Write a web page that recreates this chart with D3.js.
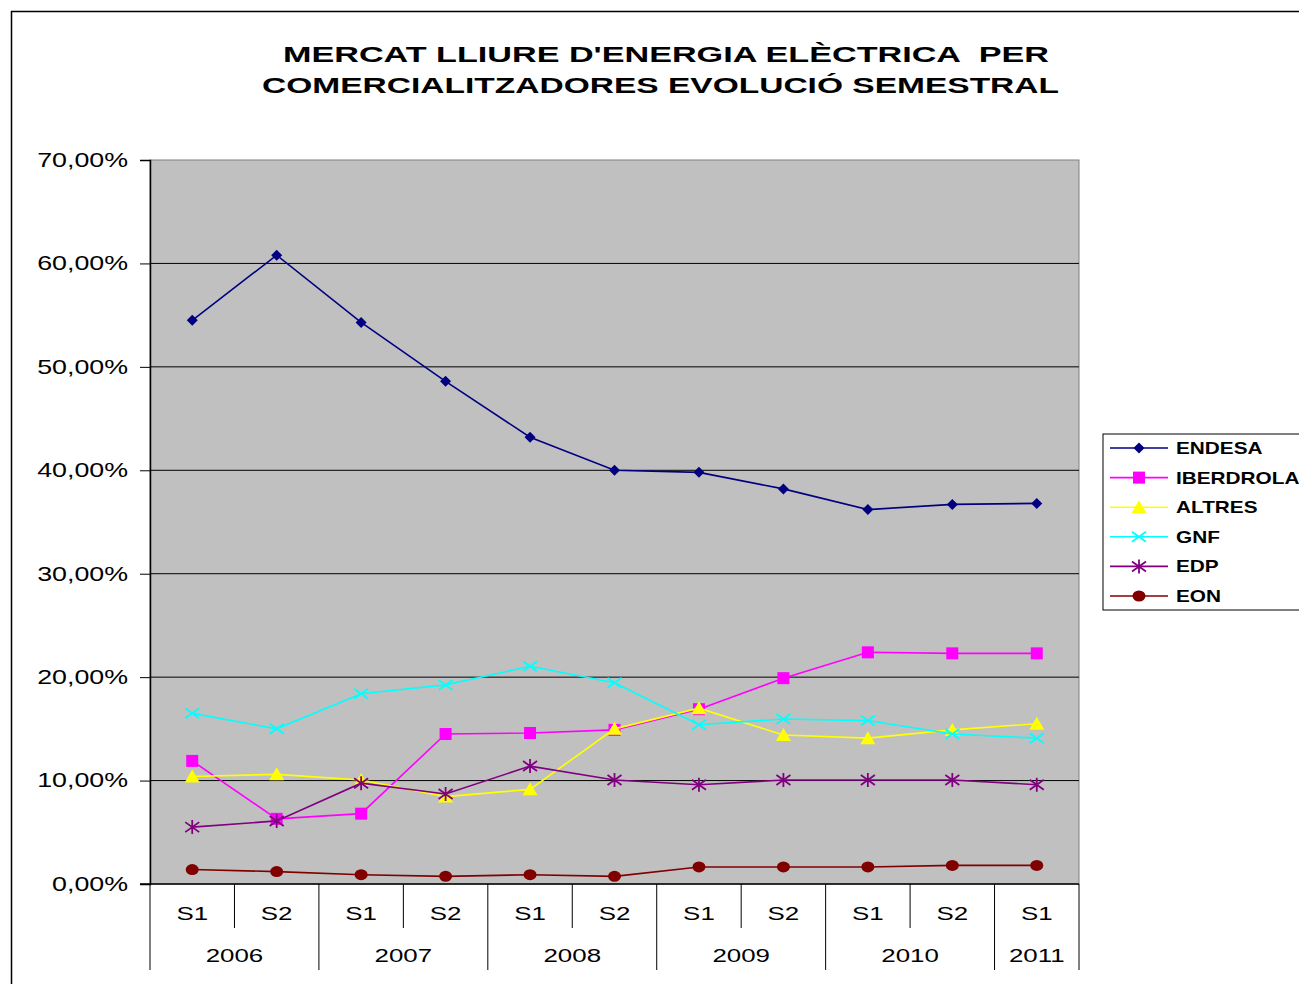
<!DOCTYPE html>
<html><head><meta charset="utf-8">
<script src="https://cdn.jsdelivr.net/npm/d3@7"></script>
<style>
html,body{margin:0;padding:0;background:#fff;}
svg{display:block;font-family:"Liberation Sans",Arial,sans-serif;}
</style></head>
<body><svg id="chart" width="1299" height="984"></svg>
<script>
const semesters = ["S1","S2","S1","S2","S1","S2","S1","S2","S1","S2","S1"];
const years = ["2006","2006","2007","2007","2008","2008","2009","2009","2010","2010","2011"];
const categories = semesters.map((s,i)=>years[i]+" "+s);
const endesa    = [54.5, 60.8, 54.3, 48.6, 43.2, 40.0, 39.8, 38.2, 36.2, 36.7, 36.8];
const iberdrola = [11.9, 6.3, 6.8, 14.5, 14.6, 14.9, 16.9, 19.9, 22.4, 22.3, 22.3];
const altres    = [10.4, 10.6, 10.05, 8.45, 9.15, 15.0, 17.0, 14.4, 14.1, 14.9, 15.5];
const gnf       = [16.5, 15.0, 18.4, 19.25, 21.05, 19.45, 15.4, 15.95, 15.8, 14.5, 14.1];
const edp       = [5.5, 6.1, 9.75, 8.7, 11.4, 10.05, 9.6, 10.05, 10.05, 10.05, 9.6];
const eon       = [1.4, 1.2, 0.9, 0.74, 0.9, 0.74, 1.65, 1.65, 1.65, 1.8, 1.8];
const seriesNames = ["ENDESA","IBERDROLA","ALTRES","GNF","EDP","EON"];
const yTicks = [0,10,20,30,40,50,60,70];
const titleLines = ["MERCAT LLIURE D'ENERGIA ELÈCTRICA  PER","COMERCIALITZADORES EVOLUCIÓ SEMESTRAL"];

const series = [
  {name:"ENDESA", values:endesa, color:"#000080", marker:"diamond"},
  {name:"IBERDROLA", values:iberdrola, color:"#FF00FF", marker:"square"},
  {name:"ALTRES", values:altres, color:"#FFFF00", marker:"triangle"},
  {name:"GNF", values:gnf, color:"#00FFFF", marker:"x"},
  {name:"EDP", values:edp, color:"#800080", marker:"star"},
  {name:"EON", values:eon, color:"#800000", marker:"circle"}
];

const svg = d3.select("#chart");
const L=150, R=1079, T=160, B=884;
const x = d3.scaleBand().domain(categories).range([L,R]);
const y = d3.scaleLinear().domain([0,70]).range([B,T]);
const loc = d3.formatLocale({decimal:",",thousands:".",grouping:[3],currency:["","€"]});
const fmt = v => loc.format(".2f")(v)+"%";

// outer frame
svg.append("line").attr("x1",11).attr("x2",1299).attr("y1",11.5).attr("y2",11.5).attr("stroke","#000").attr("stroke-width",1.5);
svg.append("line").attr("x1",11.5).attr("x2",11.5).attr("y1",11).attr("y2",984).attr("stroke","#000").attr("stroke-width",1.5);

// title (horizontally stretched like the original)
const titleGeom = [{x0:283, y:61.5, w:766},{x0:262, y:93, w:797}];
svg.append("g").selectAll("text").data(titleLines).join("text")
  .attr("x",(d,i)=>titleGeom[i].x0).attr("y",(d,i)=>titleGeom[i].y)
  .attr("font-size",22.5).attr("font-weight","bold").style("white-space","pre")
  .attr("textLength",(d,i)=>titleGeom[i].w).attr("lengthAdjust","spacingAndGlyphs")
  .text(d=>d);

// plot area
svg.append("rect").attr("x",L).attr("y",T).attr("width",R-L).attr("height",B-T)
  .attr("fill","#C0C0C0").attr("stroke","#808080").attr("stroke-width",1);

// gridlines
svg.append("g").selectAll("line").data(yTicks.filter(d=>d>0&&d<70)).join("line")
  .attr("x1",L).attr("x2",R).attr("y1",d=>y(d)).attr("y2",d=>y(d))
  .attr("stroke","#000").attr("stroke-width",1);

// y axis
const ySx = 1.34;
const ya = svg.append("g").attr("transform",`translate(${L},0)`)
  .call(d3.axisLeft(y).tickValues(yTicks).tickFormat(fmt).tickSize(10).tickPadding(12));
ya.select(".domain").attr("stroke","#000").attr("stroke-width",1.5);
ya.selectAll(".tick line").attr("stroke","#000");
ya.selectAll("text").attr("font-size",20).attr("fill","#000")
  .attr("font-family","'Liberation Sans',Arial,sans-serif")
  .attr("x",-22/ySx).attr("transform",`scale(${ySx},1)`);

// x axis baseline
svg.append("line").attr("x1",L-10).attr("x2",R).attr("y1",B).attr("y2",B).attr("stroke","#000").attr("stroke-width",1.5);

// category separators
const bounds = categories.map((c,i)=>({i, xpos:x(c)})).concat([{i:categories.length, xpos:R}]);
svg.append("g").selectAll("line").data(bounds).join("line")
  .attr("x1",d=>d.xpos).attr("x2",d=>d.xpos).attr("y1",B)
  .attr("y2",d=>{
    const isYearBound = d.i===0 || d.i===categories.length || years[d.i]!==years[d.i-1];
    return isYearBound ? 970 : 928;
  }).attr("stroke","#000").attr("stroke-width",1);

const xSx = 1.4;
// semester labels
svg.append("g").selectAll("text").data(categories).join("text")
  .attr("transform",d=>`translate(${x(d)+x.bandwidth()/2},920) scale(${xSx},1)`)
  .attr("text-anchor","middle").attr("font-size",18.5).text((d,i)=>semesters[i]);

// year labels
const yearGroups = d3.groups(categories.map((c,i)=>({c,yr:years[i]})), d=>d.yr);
svg.append("g").selectAll("text").data(yearGroups).join("text")
  .attr("transform",d=>{const a=x(d[1][0].c), b=x(d[1][d[1].length-1].c)+x.bandwidth(); return `translate(${(a+b)/2},962) scale(${xSx},1)`;})
  .attr("text-anchor","middle").attr("font-size",18.5)
  .text(d=>d[0]);

function drawMarker(g, type, color, cx, cy){
  if(type==="diamond"){
    g.append("path").attr("d",`M${cx},${cy-5.5}L${cx+5.5},${cy}L${cx},${cy+5.5}L${cx-5.5},${cy}Z`).attr("fill",color);
  } else if(type==="square"){
    g.append("rect").attr("x",cx-6).attr("y",cy-6).attr("width",12).attr("height",12).attr("fill",color);
  } else if(type==="triangle"){
    g.append("path").attr("d",`M${cx},${cy-7}L${cx+7.5},${cy+6}L${cx-7.5},${cy+6}Z`).attr("fill",color);
  } else if(type==="x"){
    g.append("path").attr("d",`M${cx-7},${cy-5}L${cx+7},${cy+5}M${cx-7},${cy+5}L${cx+7},${cy-5}`).attr("stroke",color).attr("stroke-width",1.8).attr("fill","none");
  } else if(type==="star"){
    g.append("path").attr("d",`M${cx-7},${cy-5}L${cx+7},${cy+5}M${cx-7},${cy+5}L${cx+7},${cy-5}M${cx},${cy-7}L${cx},${cy+7}`).attr("stroke",color).attr("stroke-width",1.8).attr("fill","none");
  } else if(type==="circle"){
    g.append("ellipse").attr("cx",cx).attr("cy",cy).attr("rx",6.5).attr("ry",5.5).attr("fill",color);
  }
}

// series
const line = d3.line().x((d,i)=>x(categories[i])+x.bandwidth()/2).y(d=>y(d));
series.forEach(s=>{
  const g = svg.append("g");
  g.append("path").datum(s.values).attr("d",line).attr("fill","none").attr("stroke",s.color).attr("stroke-width",1.6);
  s.values.forEach((v,i)=>drawMarker(g, s.marker, s.color, x(categories[i])+x.bandwidth()/2, y(v)));
});

// legend
const lg = svg.append("g");
lg.append("rect").attr("x",1103).attr("y",434).attr("width",210).attr("height",176).attr("fill","#fff").attr("stroke","#000").attr("stroke-width",1);
series.forEach((s,i)=>{
  const ly = 448 + i*29.6;
  const g = lg.append("g");
  g.append("line").attr("x1",1110).attr("x2",1168).attr("y1",ly).attr("y2",ly).attr("stroke",s.color).attr("stroke-width",1.6);
  drawMarker(g, s.marker, s.color, 1139, ly);
  g.append("text").attr("transform",`translate(1176,${ly+6}) scale(1.26,1)`)
    .attr("font-size",16.5).attr("font-weight","bold").text(seriesNames[i]);
});
</script></body></html>
